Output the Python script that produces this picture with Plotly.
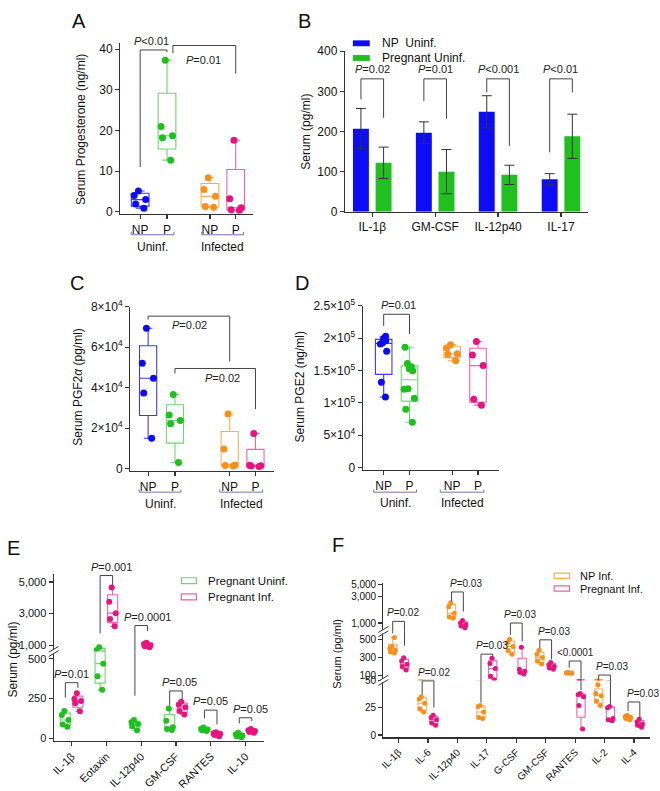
import numpy as np
import plotly.graph_objects as go

W, H = 660, 791
FONT = "Liberation Sans, Arial, Helvetica, sans-serif"
AX = "#333333"
GROUPC = "#7272b8"

# ---------------- DATA ----------------
# Panel A - serum progesterone (ng/ml)
A_ticks = ["NP", "P", "NP", "P"]
A_np_uninf = [5.1, 4.0, 3.0, 1.9, 0.9]
A_p_uninf = [37.3, 21.0, 18.7, 18.2, 12.7]
A_np_inf = [8.4, 5.5, 3.8, 1.3, 1.1]
A_p_inf = [17.6, 3.2, 1.0, 0.5, 0.4]

# Panel B - cytokines, mean +/- error (pg/ml)
B_cytokines = ["IL-1β", "GM-CSF", "IL-12p40", "IL-17"]
B_np_mean = [207, 197, 249, 81]
B_np_err = [50, 27, 40, 14]
B_p_mean = [122, 100, 92, 188]
B_p_err = [39, 55, 24, 55]
B_pvals = ["<i>P</i>=0.02", "<i>P</i>=0.01", "<i>P</i>&lt;0.001", "<i>P</i>&lt;0.01"]

# Panel C - PGF2a (pg/ml)
C_np_uninf = [69400, 52100, 44700, 37400, 15000]
C_p_uninf = [36600, 26500, 23700, 22100, 3000]
C_np_inf = [27000, 9600, 1800, 1500, 1200]
C_p_inf = [17300, 1600, 1400, 1200, 1000]

# Panel D - PGE2 (ng/ml)
D_np_uninf = [203000, 199000, 196000, 193000, 191000, 180000, 132000, 109000]
D_p_uninf = [186000, 161000, 156000, 152600, 149500, 122000, 121000, 107000, 90000, 70000]
D_np_inf = [190000, 185000, 176000, 175000, 165000]
D_p_inf = [195000, 174000, 157600, 105600, 96500]

# Panel E - pregnant uninfected vs infected (pg/ml)
E_cytokines = ["IL-1β", "Eotaxin", "IL-12p40", "GM-CSF", "RANTES", "IL-10"]
E_preg_uninf = [[171, 146, 115, 87, 73], [860, 700, 470, 390, 305], [115, 100, 90, 75, 50],
                [188, 110, 70, 58, 52], [68, 60, 55, 50, 45], [35, 25, 18, 12, 6]]
E_preg_inf = [[283, 248, 235, 221, 170], [4650, 3750, 3030, 2660, 2200], [1150, 1080, 1000, 930, 870],
              [230, 212, 195, 172, 150], [38, 32, 28, 20, 12], [58, 50, 45, 40, 35]]
E_pvals = ["<i>P</i>=0.01", "<i>P</i>=0.001", "<i>P</i>=0.0001", "<i>P</i>=0.05", "<i>P</i>=0.05", "<i>P</i>=0.05"]

# Panel F - NP infected vs pregnant infected (pg/ml)
F_cytokines = ["IL-1β", "IL-6", "IL-12p40", "IL-17", "G-CSF", "GM-CSF", "RANTES", "IL-2", "IL-4"]
F_np_inf = [[518, 420, 400, 380, 360, 350], [35, 33, 29, 24, 21], [2330, 1980, 1500, 1280, 1230],
            [27, 26, 21, 16, 15], [500, 460, 420, 375, 335], [380, 335, 300, 262, 228],
            [136, 133, 130, 128, 126], [46, 38, 36, 31, 27], [18, 17, 16, 15, 14]]
F_preg_inf = [[296, 261, 225, 200, 164], [18, 16, 14, 11, 9], [1110, 1000, 940, 880, 820],
              [290, 235, 178, 95, 52], [411, 172, 150, 135, 118], [245, 220, 200, 185, 170],
              [38, 37, 35, 27, 5.5], [26, 25, 15, 14, 13], [14.5, 12, 10, 9, 7]]
F_pvals = ["<i>P</i>=0.02", "<i>P</i>=0.02", "<i>P</i>=0.03", "<i>P</i>=0.03", "<i>P</i>=0.03",
           "<i>P</i>=0.03", "&lt;0.0001", "<i>P</i>=0.03", "<i>P</i>=0.03"]

# ---------------- COLOURS ----------------
BLUE, BLUE_BOX = "#0c0cf2", "#3a3af2"
GREEN, GREEN_BOX = "#1ec01e", "#72d472"
ORANGE, ORANGE_BOX = "#f7901a", "#f8ae5e"
PINK, PINK_BOX = "#e8137f", "#ee62a8"
BAR_BLUE, BAR_GREEN = "#0d0df5", "#20c020"

fig = go.Figure()


def xdom(px0, v0, ppu, r):
    return [(px0 + (r[0] - v0) * ppu) / W, (px0 + (r[1] - v0) * ppu) / W]


def ydom(py0, v0, ppu, r):
    return [1 - (py0 - (r[0] - v0) * ppu) / H, 1 - (py0 - (r[1] - v0) * ppu) / H]


def stats(vals):
    a = np.asarray(vals, float)
    q1, med, q3 = np.percentile(a, [25, 50, 75], method="weibull")
    return float(q1), float(med), float(q3), float(a.min()), float(a.max())


def add_group(xa, yas, pos, vals, pcol, bcol, width, msize=7, jitter=0.8):
    q1, med, q3, lo, hi = stats(vals)
    for ya in yas:
        fig.add_trace(go.Box(x=[pos], q1=[q1], median=[med], q3=[q3], lowerfence=[lo], upperfence=[hi],
                             width=width, line=dict(color=bcol, width=1.1), fillcolor="rgba(0,0,0,0)",
                             boxpoints=False, xaxis=xa, yaxis=ya, showlegend=False, hoverinfo="skip"))
        fig.add_trace(go.Box(x=[pos] * len(vals), y=vals, width=width, boxpoints="all", jitter=jitter,
                             pointpos=0, marker=dict(color=pcol, size=msize),
                             line=dict(color="rgba(0,0,0,0)", width=0), fillcolor="rgba(0,0,0,0)",
                             xaxis=xa, yaxis=ya, showlegend=False, hoverinfo="skip"))


def bracket(xa, yas, x0, x1, top, y0, y1, color="#444444"):
    for ya in yas:
        fig.add_trace(go.Scatter(x=[x0, x0, x1, x1], y=[y0, top, top, y1], mode="lines",
                                 line=dict(color=color, width=1), xaxis=xa, yaxis=ya,
                                 showlegend=False, hoverinfo="skip"))


annotations = []
shapes = []


def ptext(xa, ya, x, y, text, size=11, yanchor="bottom", yshift=1):
    annotations.append(dict(x=x, y=y, xref=xa, yref=ya, text=text, showarrow=False, yanchor=yanchor,
                            xanchor="center", yshift=yshift, font=dict(size=size, color="#222", family=FONT)))


def seg_ref(segs, v):
    for ya, lo, hi, is_log in segs:
        if lo <= v <= hi:
            return ya, (float(np.log10(v)) if is_log else v)
    return segs[-1][0], v


def ptitle(xp, yp, text, size=12):
    annotations.append(dict(x=xp / W, y=1 - yp / H, xref="paper", yref="paper", text=text, showarrow=False,
                            textangle=-90, xanchor="center", yanchor="middle",
                            font=dict(size=size, color="#111", family=FONT)))


def letter(xp, yp, text):
    annotations.append(dict(x=xp / W, y=1 - yp / H, xref="paper", yref="paper", text=text, showarrow=False,
                            xanchor="center", yanchor="middle", font=dict(size=20, color="#111", family=FONT)))


def group_bracket(xa, ya, x0, x1, line_off, tip_off, lab_off, label):
    shapes.append(dict(type="path", xref=xa, yref=ya + " domain", ysizemode="pixel", yanchor=0,
                       path=f"M {x0},{tip_off} L {x0},{line_off} L {x1},{line_off} L {x1},{tip_off}",
                       line=dict(color=GROUPC, width=1)))
    annotations.append(dict(x=(x0 + x1) / 2, y=0, xref=xa, yref=ya + " domain", yshift=lab_off, text=label,
                            showarrow=False, xanchor="center", yanchor="middle",
                            font=dict(size=12, color="#111", family=FONT)))


def axis_break(xp, yp):
    shapes.append(dict(type="rect", xref="paper", yref="paper", x0=(xp - 3) / W, x1=(xp + 3) / W,
                       y0=1 - (yp + 2) / H, y1=1 - (yp - 2) / H, fillcolor="white", line_width=0, layer="above"))
    for dy in (-2.2, 2.2):
        shapes.append(dict(type="line", xref="paper", yref="paper", x0=(xp - 5) / W, y0=1 - (yp + dy + 3) / H,
                           x1=(xp + 5) / W, y1=1 - (yp + dy - 3) / H, line=dict(color=AX, width=1),
                           layer="above"))


def axis_common(size):
    return dict(showline=True, linecolor=AX, linewidth=1.2, ticks="outside", ticklen=4, tickwidth=1.2,
                tickcolor=AX, showgrid=False, zeroline=False, fixedrange=True,
                tickfont=dict(size=size, color="#111", family=FONT))


layout_axes = {}

# ---------------- PANEL A ----------------
A_pos = [0, 1, 2.6, 3.56]
A_xr, A_yr = [-0.74, 4.19], [-0.6, 41.5]
layout_axes["xaxis"] = dict(domain=xdom(137, 0, 27, A_xr), range=A_xr, anchor="y", tickmode="array",
                            tickvals=A_pos, ticktext=A_ticks, **axis_common(12))
layout_axes["yaxis"] = dict(domain=ydom(207, 0, 4.15, A_yr), range=A_yr, anchor="x", tickmode="array",
                            tickvals=[0, 10, 20, 30, 40], ticktext=["0", "10", "20", "30", "40"], **axis_common(12))
for p, vals, pc, bc in zip(A_pos, [A_np_uninf, A_p_uninf, A_np_inf, A_p_inf],
                           [BLUE, GREEN, ORANGE, PINK], [BLUE_BOX, GREEN_BOX, ORANGE_BOX, PINK_BOX]):
    add_group("x", ["y"], p, vals, pc, bc, 0.66)
bracket("x", ["y"], A_pos[0], A_pos[1], 39.8, 11, 39.3)
bracket("x", ["y"], 1.22, A_pos[3], 40.9, 39.0, 34)
ptext("x", "y", 0.42, 39.8, "<i>P</i>&lt;0.01")
ptext("x", "y", 2.35, 37.3, "<i>P</i>=0.01", yanchor="middle", yshift=0)
group_bracket("x", "y", -0.333, 1.259, -20.5, -17.5, -32.8, "Uninf.")
group_bracket("x", "y", 2.296, 3.852, -20.5, -17.5, -32.8, "Infected")
ptitle(77, 123, "Serum Progesterone (ng/ml)")
letter(75, 12, "A")

# ---------------- PANEL B ----------------
B_xr, B_yr = [-0.434, 3.434], [0, 400]
B_idx = np.arange(len(B_cytokines))
layout_axes["xaxis2"] = dict(domain=xdom(370.5, 0, 63.3, B_xr), range=B_xr, anchor="y2", tickmode="array",
                             tickvals=list(B_idx), ticktext=B_cytokines, **axis_common(12))
layout_axes["yaxis2"] = dict(domain=ydom(207, 0, 0.41, B_yr), range=B_yr, anchor="x2", tickmode="array",
                             tickvals=[0, 100, 200, 300, 400], ticktext=["0", "100", "200", "300", "400"],
                             **axis_common(12))
fig.add_trace(go.Bar(x=B_idx - 0.18, y=B_np_mean, width=0.253, marker=dict(color=BAR_BLUE, line_width=0),
                     error_y=dict(type="data", array=B_np_err, color="#333", thickness=1, width=5),
                     xaxis="x2", yaxis="y2", showlegend=False, hoverinfo="skip"))
fig.add_trace(go.Bar(x=B_idx + 0.18, y=B_p_mean, width=0.253, marker=dict(color=BAR_GREEN, line_width=0),
                     error_y=dict(type="data", array=B_p_err, color="#333", thickness=1, width=5),
                     xaxis="x2", yaxis="y2", showlegend=False, hoverinfo="skip"))
B_top = [331, 331, 331, 331]
B_left = [280, 276, 297, 148]
B_right = [234, 232, 164, 297]
for i in B_idx:
    bracket("x2", ["y2"], i - 0.18, i + 0.18, B_top[i], B_left[i], B_right[i])
    ptext("x2", "y2", i, B_top[i], B_pvals[i], yshift=2)
fig.update_layout(barmode="overlay")
# legend B (manual)
for yc, col, lab in [(35, BAR_BLUE, "NP&nbsp; Uninf."), (50, BAR_GREEN, "Pregnant Uninf.")]:
    shapes.append(dict(type="rect", xref="paper", yref="paper", x0=351 / W, x1=368 / W,
                       y0=1 - (yc + 3) / H, y1=1 - (yc - 3) / H, fillcolor=col, line_width=0))
    annotations.append(dict(x=378 / W, y=1 - yc / H, xref="paper", yref="paper", text=lab, showarrow=False,
                            xanchor="left", yanchor="middle", font=dict(size=12, color="#111", family=FONT)))
ptitle(304, 125, "Serum (pg/ml)")
letter(302, 12, "B")

# ---------------- PANEL C ----------------
C_pos = [0, 1, 3.04, 4.0]
C_xr, C_yr = [-0.667, 4.7], [-1212, 80000]
layout_axes["xaxis3"] = dict(domain=xdom(145, 0, 27, C_xr), range=C_xr, anchor="y3", tickmode="array",
                             tickvals=C_pos, ticktext=A_ticks, **axis_common(12))
layout_axes["yaxis3"] = dict(domain=ydom(469, 0, 0.0020625, C_yr), range=C_yr, anchor="x3", tickmode="array",
                             tickvals=[0, 20000, 40000, 60000, 80000],
                             ticktext=["0", "2×10<sup>4</sup>", "4×10<sup>4</sup>", "6×10<sup>4</sup>",
                                       "8×10<sup>4</sup>"], **axis_common(12))
for p, vals, pc, bc in zip(C_pos, [C_np_uninf, C_p_uninf, C_np_inf, C_p_inf],
                           [BLUE, GREEN, ORANGE, PINK], [BLUE_BOX, GREEN_BOX, ORANGE_BOX, PINK_BOX]):
    add_group("x3", ["y3"], p, vals, pc, bc, 0.64)
bracket("x3", ["y3"], C_pos[0], C_pos[2], 75400, 73700, 53000)
bracket("x3", ["y3"], C_pos[1], C_pos[3], 49500, 47000, 29400)
ptext("x3", "y3", 1.56, 70800, "<i>P</i>=0.02", yanchor="middle", yshift=0)
ptext("x3", "y3", 2.78, 44600, "<i>P</i>=0.02", yanchor="middle", yshift=0)
group_bracket("x3", "y3", -0.333, 1.222, -21.2, -18.5, -33.5, "Uninf.")
group_bracket("x3", "y3", 2.67, 4.26, -21.2, -18.5, -33.5, "Infected")
ptitle(75, 386, "Serum PGF2<i>α</i> (pg/ml)")
letter(73, 280, "C")

# ---------------- PANEL D ----------------
D_pos = [0, 1, 2.65, 3.65]
D_xr, D_yr = [-0.81, 4.46], [-3788, 250000]
layout_axes["xaxis4"] = dict(domain=xdom(382, 0, 26, D_xr), range=D_xr, anchor="y4", tickmode="array",
                             tickvals=D_pos, ticktext=A_ticks, **axis_common(12))
layout_axes["yaxis4"] = dict(domain=ydom(468, 0, 0.00066, D_yr), range=D_yr, anchor="x4", tickmode="array",
                             tickvals=[0, 50000, 100000, 150000, 200000, 250000],
                             ticktext=["0", "5×10<sup>4</sup>", "1×10<sup>5</sup>", "1.5×10<sup>5</sup>",
                                       "2×10<sup>5</sup>", "2.5×10<sup>5</sup>"], **axis_common(12))
for p, vals, pc, bc in zip(D_pos, [D_np_uninf, D_p_uninf, D_np_inf, D_p_inf],
                           [BLUE, GREEN, ORANGE, PINK], [BLUE_BOX, GREEN_BOX, ORANGE_BOX, PINK_BOX]):
    add_group("x4", ["y4"], p, vals, pc, bc, 0.64)
bracket("x4", ["y4"], D_pos[0], D_pos[1], 237000, 219000, 206500)
ptext("x4", "y4", 0.58, 237000, "<i>P</i>=0.01")
group_bracket("x4", "y4", -0.385, 1.27, -22.2, -19.5, -32.8, "Uninf.")
group_bracket("x4", "y4", 2.19, 3.88, -22.2, -19.5, -32.8, "Infected")
ptitle(298, 386, "Serum PGE2 (ng/ml)")
letter(300, 280, "D")

# ---------------- PANEL E ----------------
E_xr = [-0.514, 5.54]
E_segs = [("y5", -15, 547, False), ("y6", 602, 5500, False)]
E_yas = [s[0] for s in E_segs]
layout_axes["xaxis5"] = dict(domain=xdom(68, 0, 35, E_xr), range=E_xr, anchor="y5", tickmode="array",
                             tickvals=list(range(len(E_cytokines))), ticktext=E_cytokines, tickangle=-45,
                             **axis_common(11))
layout_axes["yaxis5"] = dict(domain=ydom(744.3, 0, 0.162, [-15, 547]), range=[-15, 547], anchor="x5",
                             tickmode="array", tickvals=[0, 250, 500], ticktext=["0", "250", "500"],
                             **axis_common(11))
layout_axes["yaxis6"] = dict(domain=ydom(649.3, 1000, 0.0161, [602, 5500]), range=[602, 5500], anchor="x5",
                             tickmode="array", tickvals=[1000, 3000, 5000], ticktext=["1,000", "3,000", "5,000"],
                             **axis_common(11))
for i, (g, p) in enumerate(zip(E_preg_uninf, E_preg_inf)):
    add_group("x5", E_yas, i - 0.18, g, GREEN, GREEN_BOX, 0.29, msize=6)
    add_group("x5", E_yas, i + 0.18, p, PINK, PINK_BOX, 0.29, msize=6)
E_top = [350, 5414, 2244, 298, 177, 129]
E_left = [256, 1746, 268, 205, 125, 94]
E_right = [318, 4793, 1891, 245, 87.5, 108]
E_textx = [0.0, 1.14, 2.19, 3.09, 3.99, 5.13]
for i in range(len(E_cytokines)):
    bracket("x5", E_yas, i - 0.18, i + 0.18, E_top[i], E_left[i], E_right[i])
    ya, yv = seg_ref(E_segs, E_top[i])
    ptext("x5", ya, E_textx[i], yv, E_pvals[i], size=11, yshift=1)
axis_break(50, 655.7)
for yc, col, lab in [(583.5, GREEN_BOX, "Pregnant Uninf."), (600, PINK_BOX, "Pregnant Inf.")]:
    shapes.append(dict(type="rect", xref="paper", yref="paper", x0=178.5 / W, x1=193.5 / W,
                       y0=1 - (yc + 3) / H, y1=1 - (yc - 3) / H, fillcolor="rgba(0,0,0,0)",
                       line=dict(color=col, width=1.2)))
    annotations.append(dict(x=203 / W, y=1 - yc / H, xref="paper", yref="paper", text=lab, showarrow=False,
                            xanchor="left", yanchor="middle", font=dict(size=11.5, color="#111", family=FONT)))
ptitle(9, 664, "Serum (pg/ml)")
letter(10, 550, "E")

# ---------------- PANEL F ----------------
F_xr = [-0.517, 8.55]
F_segs = [("y7", -2.2, 50, False), ("y8", 50, 582, False), ("y9", 10 ** 2.844, 10 ** 3.72, True)]
F_yas = [s[0] for s in F_segs]
layout_axes["xaxis6"] = dict(domain=xdom(397, 0, 29.6, F_xr), range=F_xr, anchor="y7", tickmode="array",
                             tickvals=list(range(len(F_cytokines))), ticktext=F_cytokines, tickangle=-45,
                             **axis_common(10))
layout_axes["yaxis7"] = dict(domain=ydom(741, 0, 1.1166, [-2.2, 50]), range=[-2.2, 50], anchor="x6",
                             tickmode="array", tickvals=[0, 25, 50], ticktext=["0", "25", "50"], **axis_common(10))
layout_axes["yaxis8"] = dict(domain=ydom(680.5, 100, 0.0933, [50, 582]), range=[50, 582], anchor="x6",
                             tickmode="array", tickvals=[100, 300, 500], ticktext=["100", "300", "500"],
                             **axis_common(10))
layout_axes["yaxis9"] = dict(domain=ydom(626.7, 3, 56.4, [2.844, 3.72]), range=[2.844, 3.72], type="log",
                             anchor="x6", tickmode="array", tickvals=[1000, 3000, 5000],
                             ticktext=["1,000", "3,000", "5,000"], **axis_common(10))
for i, (g, p) in enumerate(zip(F_np_inf, F_preg_inf)):
    add_group("x6", F_yas, i - 0.2, g, ORANGE, ORANGE_BOX, 0.28, msize=5)
    add_group("x6", F_yas, i + 0.2, p, PINK, PINK_BOX, 0.28, msize=5)
F_top = [1072, 49.5, 3648, 336, 1000, 493, 261, 107.5, 30.2]
F_left = [564, 37, 2500, 29.6, 547, 403, 189, 49, 21.8]
F_right = [429, 25, 1611, 307, 475, 279, 41, 28, 15.2]
F_textx = [0.16, 1.19, 2.28, 3.17, 4.12, 5.29, 6.0, 7.25, 8.3]
for i in range(len(F_cytokines)):
    bracket("x6", F_yas, i - 0.2, i + 0.2, F_top[i], F_left[i], F_right[i])
    ya, yv = seg_ref(F_segs, F_top[i])
    ptext("x6", ya, F_textx[i], yv, F_pvals[i], size=10, yshift=1)
axis_break(381.7, 685.2)
axis_break(381.7, 635.5)
for yc, col, lab in [(578.5, ORANGE_BOX, "NP Inf."), (591.5, PINK_BOX, "Pregnant Inf.")]:
    shapes.append(dict(type="rect", xref="paper", yref="paper", x0=553.5 / W, x1=569 / W,
                       y0=1 - (yc + 2.7) / H, y1=1 - (yc - 2.7) / H, fillcolor="rgba(0,0,0,0)",
                       line=dict(color=col, width=1.2)))
    annotations.append(dict(x=578 / W, y=1 - yc / H, xref="paper", yref="paper", text=lab, showarrow=False,
                            xanchor="left", yanchor="middle", font=dict(size=11, color="#111", family=FONT)))
ptitle(335, 658, "Serum (pg/ml)", size=11)
letter(336, 547, "F")

fig.update_layout(
    width=W, height=H, autosize=False,
    margin=dict(l=0, r=0, t=0, b=0),
    paper_bgcolor="white", plot_bgcolor="white",
    showlegend=False, boxmode="overlay",
    font=dict(family=FONT, color="#111"),
    annotations=annotations, shapes=shapes,
    **layout_axes,
)

# remove the browser's default 8px body margin so the figure fills the window exactly
fig.write_html("out.html", config={"displayModeBar": False, "staticPlot": True},
               post_script="document.body.style.margin='0';document.body.style.overflow='hidden';")
